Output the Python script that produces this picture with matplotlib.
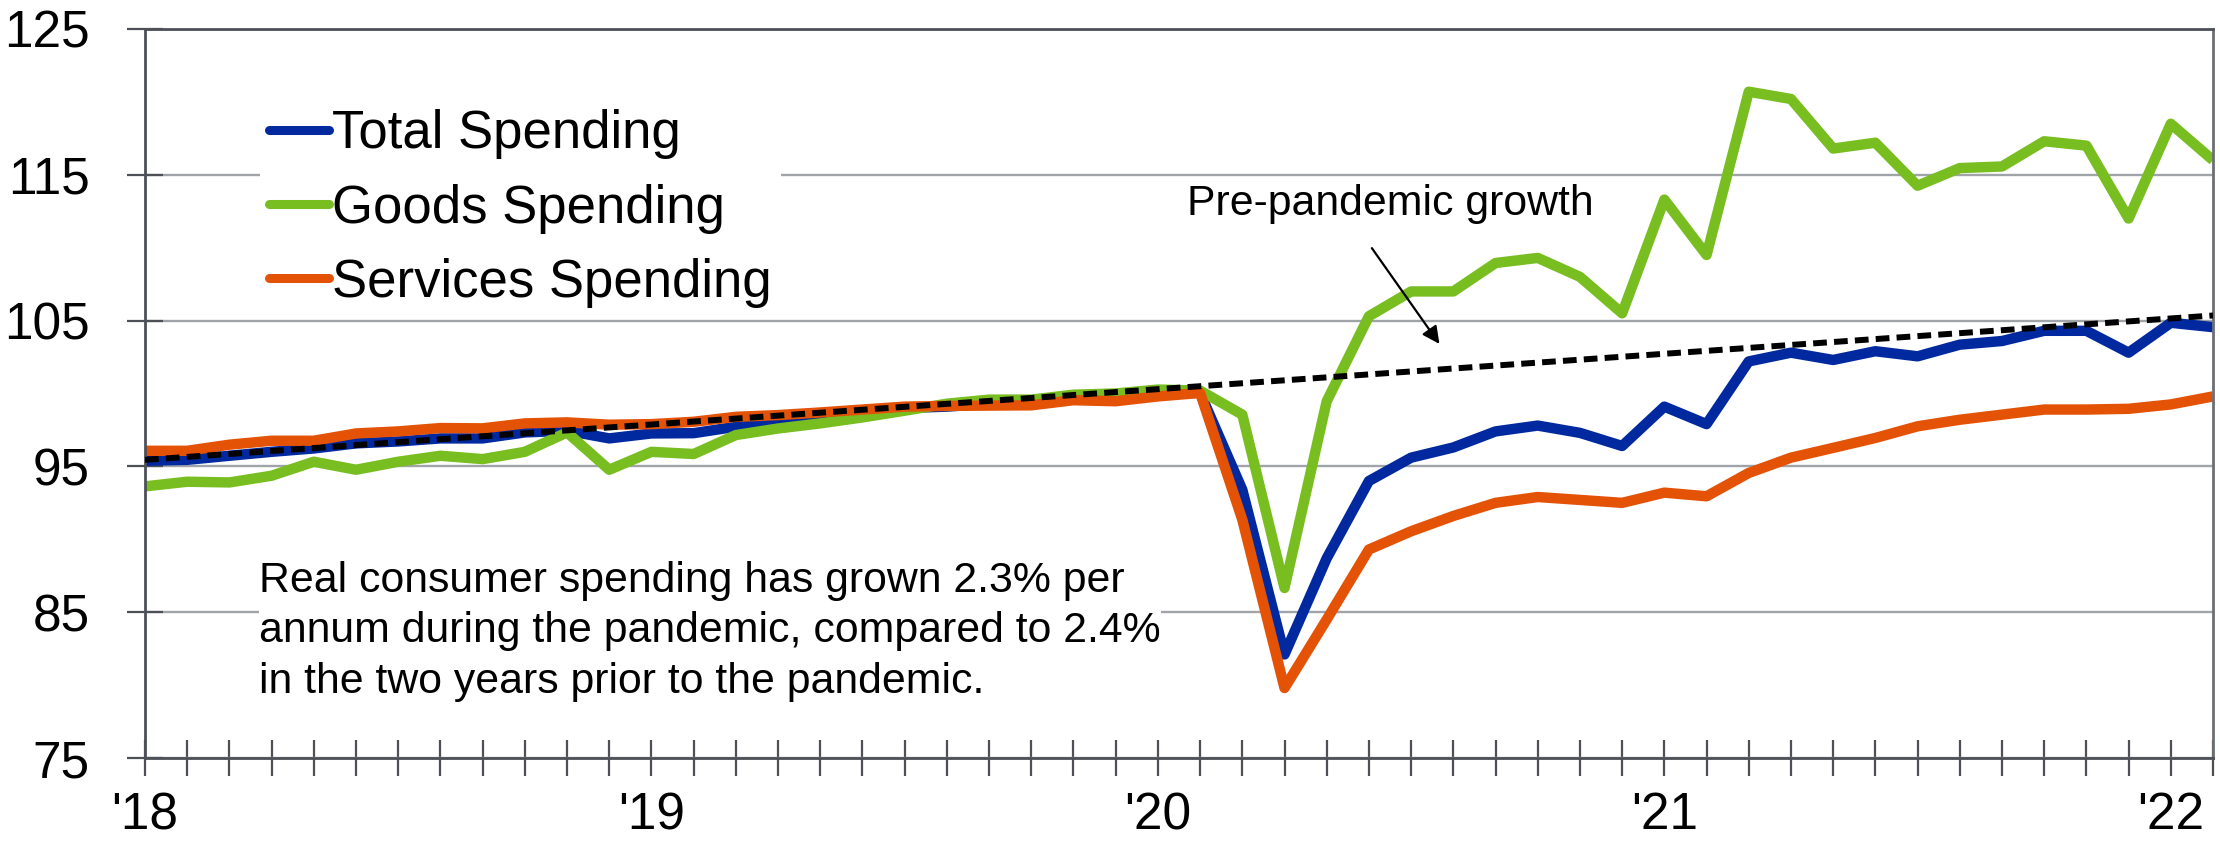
import numpy as np
import matplotlib
matplotlib.use("Agg")
import matplotlib.pyplot as plt

plt.rcParams["font.family"] = ["Liberation Sans", "DejaVu Sans"]

# ---------------------------------------------------------------------------
# Data: monthly index levels, Jan 2018 .. Feb 2022 (Feb 2020 ~ 100)
# ---------------------------------------------------------------------------
total_spending = [
    95.39, 95.45, 95.73, 96.00, 96.23, 96.58, 96.71, 96.92, 96.92, 97.33,
    97.45, 96.92, 97.26, 97.28, 97.72, 97.90, 98.60, 98.85, 99.00, 99.10,
    99.30, 99.35, 99.70, 99.70, 99.95, 100.05, 93.40, 82.10, 88.70, 94.00,
    95.60, 96.30, 97.40, 97.80, 97.30, 96.40, 99.10, 97.90, 102.20, 102.80,
    102.30, 102.90, 102.55, 103.35, 103.60, 104.30, 104.30, 102.80, 104.85, 104.55,
]
goods_spending = [
    93.63, 93.95, 93.90, 94.36, 95.32, 94.77, 95.32, 95.73, 95.50, 96.00,
    97.33, 94.77, 96.00, 95.85, 97.15, 97.60, 97.95, 98.36, 98.82, 99.30,
    99.58, 99.58, 99.92, 100.00, 100.27, 100.20, 98.55, 86.66, 99.47, 105.30,
    107.00, 107.00, 108.95, 109.30, 108.00, 105.50, 113.30, 109.50, 120.70, 120.20,
    116.80, 117.20, 114.25, 115.46, 115.57, 117.30, 117.00, 112.00, 118.50, 116.00,
]
services_spending = [
    96.07, 96.07, 96.49, 96.76, 96.76, 97.26, 97.40, 97.63, 97.61, 97.95,
    98.02, 97.86, 97.90, 98.06, 98.40, 98.52, 98.70, 98.90, 99.10, 99.15,
    99.17, 99.19, 99.54, 99.47, 99.80, 100.04, 91.35, 79.80, 84.50, 89.30,
    90.55, 91.60, 92.50, 92.90, 92.70, 92.50, 93.20, 92.95, 94.55, 95.60,
    96.27, 96.95, 97.75, 98.20, 98.55, 98.90, 98.90, 98.95, 99.25, 99.80,
]
# pre-pandemic trend: two end points (Jan 2018, Feb 2022)
trend_x = [0, 49]
trend_y = [95.45, 105.35]

year_labels = {0: "'18", 12: "'19", 24: "'20", 36: "'21", 48: "'22"}
y_ticks = [75, 85, 95, 105, 115, 125]

months = np.arange(len(total_spending))

BLUE = "#0029A0"
GREEN = "#78BE20"
ORANGE = "#E35205"
AXIS_GRAY = "#4D5157"
GRID_GRAY = "#A0A4A9"

fig = plt.figure(figsize=(22.2, 8.43), dpi=100)
ax = fig.add_axes([145 / 2220, 1 - 758 / 843, (2213 - 145) / 2220, (758 - 29) / 843])

line_kw = dict(linewidth=7.5, solid_joinstyle="round", solid_capstyle="butt")
ax.plot(months, total_spending, color=BLUE, label="Total Spending", **line_kw)
ax.plot(months, goods_spending, color=GREEN, label="Goods Spending", **line_kw)
ax.plot(months, services_spending, color=ORANGE, label="Services Spending", **line_kw)
ax.plot(trend_x, trend_y, color="black", linewidth=4.3, dashes=(2.3, 1.2), zorder=4)

ax.set_xlim(0, 49)
ax.set_ylim(75, 125)
ax.set_yticks(y_ticks)
ax.set_xticks(months)
ax.set_xticklabels([year_labels.get(i, "") for i in months])

ax.grid(axis="y", color=GRID_GRAY, linewidth=1.7)
ax.set_axisbelow(True)
for side in ("left", "bottom", "top"):
    ax.spines[side].set_color(AXIS_GRAY)
    ax.spines[side].set_linewidth(2)
ax.spines["right"].set_color("#6B7075")
ax.spines["right"].set_linewidth(2)

ax.tick_params(axis="both", direction="inout", length=26, width=1.6,
               color=AXIS_GRAY, labelsize=37)
ax.tick_params(axis="y", pad=27)
ax.tick_params(axis="x", pad=11)

leg = ax.legend(loc="upper left", bbox_to_anchor=(0.0556, 0.902),
                fontsize=38, frameon=True, facecolor="white", edgecolor="none",
                framealpha=1, fancybox=False, handlelength=1.14,
                handletextpad=0.06, labelspacing=0.46, borderpad=0.17,
                borderaxespad=0)
for h in leg.get_lines():
    h.set_linewidth(6.5)
    h.set_solid_capstyle("round")

ax.text(24.69, 112.26, "Pre-pandemic growth", fontsize=30.8, va="baseline",
        ha="left", bbox=dict(facecolor="white", edgecolor="none", pad=3))
ax.annotate("", xy=(30.67, 103.4), xytext=(29.07, 109.97),
            arrowprops=dict(arrowstyle="-|>", color="black", lw=1.6,
                            mutation_scale=26, shrinkA=0, shrinkB=0))

ax.text(2.70, 79.49,
        "Real consumer spending has grown 2.3% per\n"
        "annum during the pandemic, compared to 2.4%\n"
        "in the two years prior to the pandemic.",
        fontsize=30.8, va="baseline", ha="left", linespacing=1.33,
        bbox=dict(facecolor="white", edgecolor="none", pad=0))

fig.savefig("out.png", dpi=100)
